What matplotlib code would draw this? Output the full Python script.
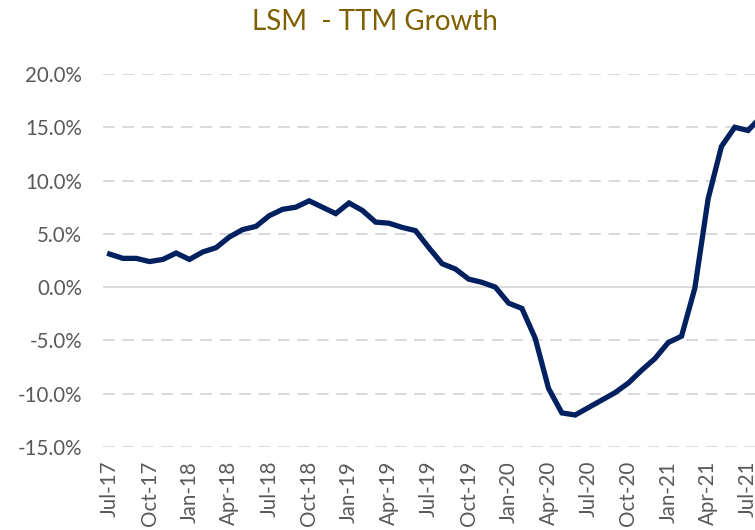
import matplotlib
matplotlib.use("Agg")
import matplotlib.pyplot as plt
from matplotlib.ticker import FuncFormatter

# monthly TTM growth (%), Jul-17 .. Aug-21
months = ["Jul-17", "Aug-17", "Sep-17", "Oct-17", "Nov-17", "Dec-17",
          "Jan-18", "Feb-18", "Mar-18", "Apr-18", "May-18", "Jun-18",
          "Jul-18", "Aug-18", "Sep-18", "Oct-18", "Nov-18", "Dec-18",
          "Jan-19", "Feb-19", "Mar-19", "Apr-19", "May-19", "Jun-19",
          "Jul-19", "Aug-19", "Sep-19", "Oct-19", "Nov-19", "Dec-19",
          "Jan-20", "Feb-20", "Mar-20", "Apr-20", "May-20", "Jun-20",
          "Jul-20", "Aug-20", "Sep-20", "Oct-20", "Nov-20", "Dec-20",
          "Jan-21", "Feb-21", "Mar-21", "Apr-21", "May-21", "Jun-21",
          "Jul-21", "Aug-21"]
growth = [3.1, 2.7, 2.7, 2.4, 2.6, 3.2,
          2.6, 3.3, 3.7, 4.7, 5.4, 5.7,
          6.7, 7.3, 7.5, 8.1, 7.5, 6.9,
          7.9, 7.2, 6.1, 6.0, 5.6, 5.3,
          3.7, 2.2, 1.7, 0.75, 0.45, 0.0,
          -1.5, -2.0, -4.8, -9.5, -11.8, -12.0,
          -11.3, -10.6, -9.9, -9.0, -7.8, -6.7,
          -5.2, -4.6, -0.1, 8.3, 13.2, 15.0,
          14.7, 16.0]
yticks = [-15, -10, -5, 0, 5, 10, 15, 20]

plt.rcParams["font.family"] = ["Lato", "DejaVu Sans"]

fig = plt.figure(figsize=(7.55, 5.3), dpi=100)
# plot area runs past the right edge, as in the source image
ax = fig.add_axes([0.1364, 0.1566, 0.8808, 0.7038])

x = list(range(len(months)))
ax.plot(x, growth, color="#002060", linewidth=3.8, solid_joinstyle="miter")

ax.set_xlim(-0.5, len(months) - 0.5)
ax.set_ylim(-15, 20)
ax.set_yticks(yticks)
ax.yaxis.set_major_formatter(FuncFormatter(lambda v, p: f"{v:.1f}%"))

ax.set_xticks(x[::3])
ax.set_xticklabels(months[::3], rotation=90)

for v in yticks:
    if v == 0:
        ax.axhline(v, color="#d9d9d9", linewidth=1.4, zorder=0)
    else:
        ax.axhline(v, color="#d9d9d9", linewidth=1.4, linestyle=(0, (6, 4)), zorder=0)

for s in ax.spines.values():
    s.set_visible(False)
ax.tick_params(length=0, labelsize=14.8, colors="#595959")
ax.tick_params(axis="y", pad=15)
ax.tick_params(axis="x", pad=10)

fig.text(0.497, 0.958, "LSM  - TTM Growth", ha="center", va="center",
         fontsize=20, color="#7f6000")

fig.savefig("out.png", dpi=100)
